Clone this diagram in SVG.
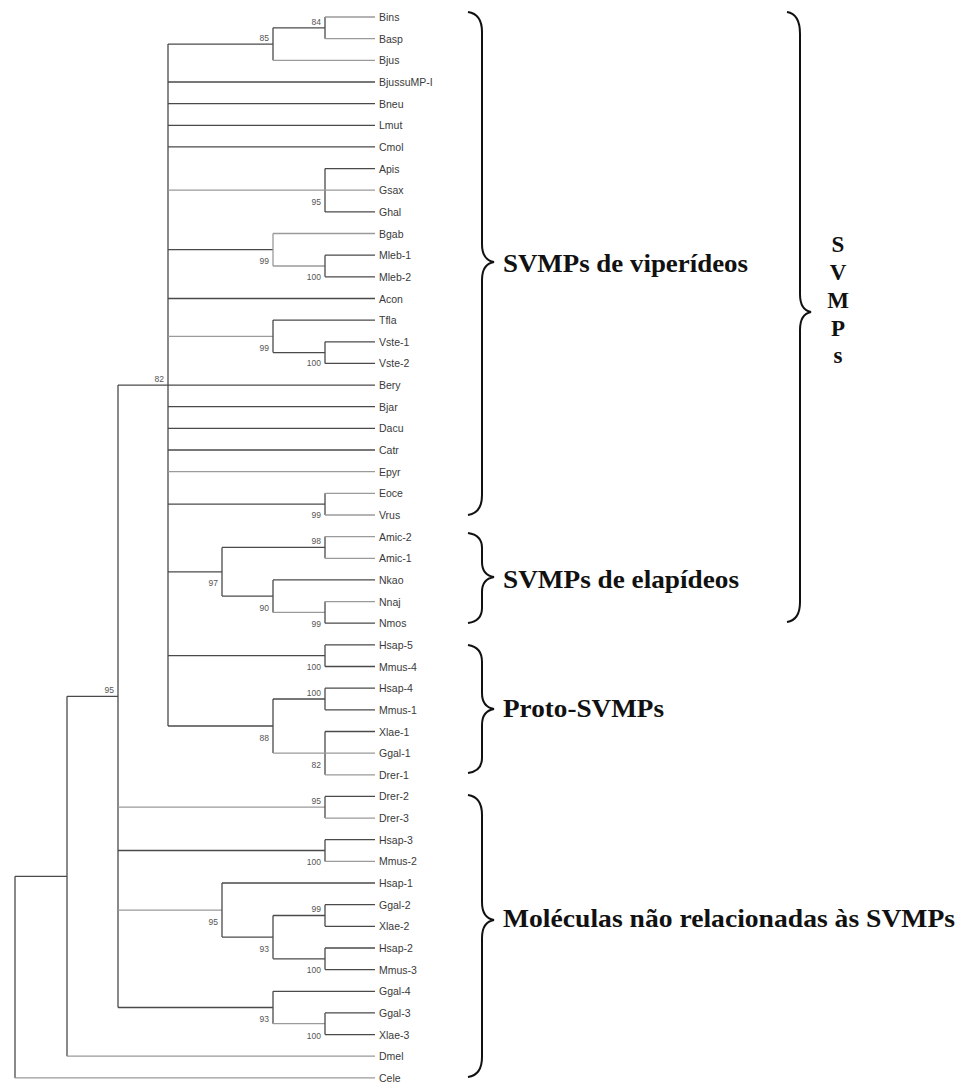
<svg xmlns="http://www.w3.org/2000/svg" width="960" height="1084" viewBox="0 0 960 1084">
<style>
.d{stroke:#4a4a4a;stroke-width:1.3;fill:none}
.l{stroke:#9a9a9a;stroke-width:1.3;fill:none}
.leaf{font-family:"Liberation Sans",Arial,sans-serif;font-size:10.5px;fill:#3a3a3a}
.bs{font-family:"Liberation Sans",Arial,sans-serif;font-size:8.5px;fill:#555;text-anchor:end}
.br{stroke:#111;stroke-width:2;fill:none}
.grp{font-family:"Liberation Serif","Times New Roman",serif;font-weight:bold;font-size:26px;fill:#111}
.big{font-family:"Liberation Serif","Times New Roman",serif;font-weight:bold;font-size:23px;fill:#111;text-anchor:middle}
</style>
<rect width="960" height="1084" fill="#fff"/>
<g id="connectors">
<!-- root -->
<path class="d" d="M15 876.3V1077.9"/>
<path class="l" d="M15 1077.9H375"/>
<path class="d" d="M15 876.3H67"/>
<path class="d" d="M67 696.3V1056.2"/>
<path class="l" d="M67 1056.2H375"/>
<path class="d" d="M67 696.3H118"/>
<path class="d" d="M118 385.1V1007.5"/>
<!-- node 82 SVMPs -->
<path class="d" d="M118 385.1H168"/>
<path class="d" d="M168 44.1V726"/>
<!-- 85 / 84 -->
<path class="d" d="M168 44.1H273"/>
<path class="d" d="M273 27.8V60.3"/>
<path class="d" d="M273 27.8H325"/>
<path class="d" d="M325 17V38.7"/>
<path class="l" d="M325 17H375"/>
<path class="l" d="M325 38.7H375"/>
<path class="l" d="M273 60.3H375"/>
<path class="d" d="M168 82H375"/>
<path class="d" d="M168 103.6H375"/>
<path class="d" d="M168 125.3H375"/>
<path class="d" d="M168 146.9H375"/>
<!-- Apis polytomy -->
<path class="d" d="M325 168.6V211.9"/>
<path class="d" d="M325 168.6H375"/>
<path class="l" d="M168 190.2H375"/>
<path class="d" d="M325 211.9H375"/>
<!-- Bgab -->
<path class="d" d="M168 249.7H273"/>
<path class="l" d="M273 233.5V266"/>
<path class="l" d="M273 233.5H375"/>
<path class="l" d="M273 266H325"/>
<path class="d" d="M325 255.2V276.8"/>
<path class="d" d="M325 255.2H375"/>
<path class="d" d="M325 276.8H375"/>
<path class="d" d="M168 298.5H375"/>
<!-- Tfla -->
<path class="l" d="M168 336.3H273"/>
<path class="d" d="M273 320.1V352.6"/>
<path class="d" d="M273 320.1H375"/>
<path class="d" d="M273 352.6H325"/>
<path class="d" d="M325 341.8V363.4"/>
<path class="d" d="M325 341.8H375"/>
<path class="d" d="M325 363.4H375"/>
<path class="d" d="M168 385.1H375"/>
<path class="d" d="M168 406.7H375"/>
<path class="d" d="M168 428.4H375"/>
<path class="d" d="M168 450H375"/>
<path class="l" d="M168 471.7H375"/>
<!-- Eoce/Vrus -->
<path class="d" d="M168 504.1H325"/>
<path class="d" d="M325 493.3V515"/>
<path class="l" d="M325 493.3H375"/>
<path class="l" d="M325 515H375"/>
<!-- elapid -->
<path class="d" d="M168 571.8H222"/>
<path class="d" d="M222 547.4V596.1"/>
<path class="d" d="M222 547.4H325"/>
<path class="d" d="M325 536.6V558.3"/>
<path class="l" d="M325 536.6H375"/>
<path class="l" d="M325 558.3H375"/>
<path class="d" d="M222 596.1H273"/>
<path class="d" d="M273 579.9V612.4"/>
<path class="d" d="M273 579.9H375"/>
<path class="l" d="M273 612.4H325"/>
<path class="d" d="M325 601.6V623.2"/>
<path class="l" d="M325 601.6H375"/>
<path class="d" d="M325 623.2H375"/>
<!-- proto -->
<path class="d" d="M168 655.7H325"/>
<path class="d" d="M325 644.9V666.5"/>
<path class="d" d="M325 644.9H375"/>
<path class="d" d="M325 666.5H375"/>
<path class="d" d="M168 726H273"/>
<path class="d" d="M273 699V753.1"/>
<path class="d" d="M273 699H325"/>
<path class="d" d="M325 688.2V709.8"/>
<path class="d" d="M325 688.2H375"/>
<path class="d" d="M325 709.8H375"/>
<path class="d" d="M325 731.5V774.8"/>
<path class="d" d="M325 731.5H375"/>
<path class="l" d="M273 753.1H375"/>
<path class="l" d="M325 774.8H375"/>
<!-- non-SVMP -->
<path class="l" d="M118 807.2H325"/>
<path class="d" d="M325 796.4V818.1"/>
<path class="d" d="M325 796.4H375"/>
<path class="l" d="M325 818.1H375"/>
<path class="d" d="M118 850.5H325"/>
<path class="d" d="M325 839.7V861.4"/>
<path class="d" d="M325 839.7H375"/>
<path class="l" d="M325 861.4H375"/>
<path class="l" d="M118 910.1H222"/>
<path class="d" d="M222 883V937.1"/>
<path class="d" d="M222 883H375"/>
<path class="d" d="M222 937.1H273"/>
<path class="d" d="M273 915.5V958.8"/>
<path class="d" d="M273 915.5H325"/>
<path class="d" d="M325 904.7V926.3"/>
<path class="d" d="M325 904.7H375"/>
<path class="d" d="M325 926.3H375"/>
<path class="d" d="M273 958.8H325"/>
<path class="d" d="M325 948V969.6"/>
<path class="d" d="M325 948H375"/>
<path class="d" d="M325 969.6H375"/>
<path class="d" d="M118 1007.5H273"/>
<path class="d" d="M273 991.3V1023.7"/>
<path class="d" d="M273 991.3H375"/>
<path class="l" d="M273 1023.7H325"/>
<path class="d" d="M325 1012.9V1034.6"/>
<path class="d" d="M325 1012.9H375"/>
<path class="d" d="M325 1034.6H375"/>
</g>
<g id="leaves" class="leaf">
<g id="n-Bins"><text x="379" y="21">Bins</text></g>
<g id="n-Basp"><text x="379" y="42.7">Basp</text></g>
<g id="n-Bjus"><text x="379" y="64.3">Bjus</text></g>
<g id="n-BjussuMP-I"><text x="379" y="86">BjussuMP-I</text></g>
<g id="n-Bneu"><text x="379" y="107.6">Bneu</text></g>
<g id="n-Lmut"><text x="379" y="129.3">Lmut</text></g>
<g id="n-Cmol"><text x="379" y="150.9">Cmol</text></g>
<g id="n-Apis"><text x="379" y="172.6">Apis</text></g>
<g id="n-Gsax"><text x="379" y="194.2">Gsax</text></g>
<g id="n-Ghal"><text x="379" y="215.9">Ghal</text></g>
<g id="n-Bgab"><text x="379" y="237.5">Bgab</text></g>
<g id="n-Mleb-1"><text x="379" y="259.2">Mleb-1</text></g>
<g id="n-Mleb-2"><text x="379" y="280.8">Mleb-2</text></g>
<g id="n-Acon"><text x="379" y="302.5">Acon</text></g>
<g id="n-Tfla"><text x="379" y="324.1">Tfla</text></g>
<g id="n-Vste-1"><text x="379" y="345.8">Vste-1</text></g>
<g id="n-Vste-2"><text x="379" y="367.4">Vste-2</text></g>
<g id="n-Bery"><text x="379" y="389.1">Bery</text></g>
<g id="n-Bjar"><text x="379" y="410.7">Bjar</text></g>
<g id="n-Dacu"><text x="379" y="432.4">Dacu</text></g>
<g id="n-Catr"><text x="379" y="454">Catr</text></g>
<g id="n-Epyr"><text x="379" y="475.7">Epyr</text></g>
<g id="n-Eoce"><text x="379" y="497.3">Eoce</text></g>
<g id="n-Vrus"><text x="379" y="519">Vrus</text></g>
<g id="n-Amic-2"><text x="379" y="540.6">Amic-2</text></g>
<g id="n-Amic-1"><text x="379" y="562.3">Amic-1</text></g>
<g id="n-Nkao"><text x="379" y="583.9">Nkao</text></g>
<g id="n-Nnaj"><text x="379" y="605.6">Nnaj</text></g>
<g id="n-Nmos"><text x="379" y="627.2">Nmos</text></g>
<g id="n-Hsap-5"><text x="379" y="648.9">Hsap-5</text></g>
<g id="n-Mmus-4"><text x="379" y="670.5">Mmus-4</text></g>
<g id="n-Hsap-4"><text x="379" y="692.2">Hsap-4</text></g>
<g id="n-Mmus-1"><text x="379" y="713.8">Mmus-1</text></g>
<g id="n-Xlae-1"><text x="379" y="735.5">Xlae-1</text></g>
<g id="n-Ggal-1"><text x="379" y="757.1">Ggal-1</text></g>
<g id="n-Drer-1"><text x="379" y="778.8">Drer-1</text></g>
<g id="n-Drer-2"><text x="379" y="800.4">Drer-2</text></g>
<g id="n-Drer-3"><text x="379" y="822.1">Drer-3</text></g>
<g id="n-Hsap-3"><text x="379" y="843.7">Hsap-3</text></g>
<g id="n-Mmus-2"><text x="379" y="865.4">Mmus-2</text></g>
<g id="n-Hsap-1"><text x="379" y="887">Hsap-1</text></g>
<g id="n-Ggal-2"><text x="379" y="908.7">Ggal-2</text></g>
<g id="n-Xlae-2"><text x="379" y="930.3">Xlae-2</text></g>
<g id="n-Hsap-2"><text x="379" y="952">Hsap-2</text></g>
<g id="n-Mmus-3"><text x="379" y="973.6">Mmus-3</text></g>
<g id="n-Ggal-4"><text x="379" y="995.3">Ggal-4</text></g>
<g id="n-Ggal-3"><text x="379" y="1016.9">Ggal-3</text></g>
<g id="n-Xlae-3"><text x="379" y="1038.6">Xlae-3</text></g>
<g id="n-Dmel"><text x="379" y="1060.2">Dmel</text></g>
<g id="n-Cele"><text x="379" y="1081.9">Cele</text></g>
</g>
<g id="bootstrap" class="bs">
<text x="321" y="24.5">84</text>
<text x="269" y="41">85</text>
<text x="321" y="205">95</text>
<text x="269" y="264">99</text>
<text x="321" y="280">100</text>
<text x="269" y="351">99</text>
<text x="321" y="366">100</text>
<text x="164" y="382">82</text>
<text x="321" y="518">99</text>
<text x="321" y="544">98</text>
<text x="218" y="586">97</text>
<text x="269" y="611">90</text>
<text x="321" y="627">99</text>
<text x="321" y="670">100</text>
<text x="114" y="693">95</text>
<text x="321" y="696">100</text>
<text x="269" y="741">88</text>
<text x="321" y="768">82</text>
<text x="321" y="804">95</text>
<text x="321" y="865">100</text>
<text x="321" y="912">99</text>
<text x="218" y="925">95</text>
<text x="269" y="952">93</text>
<text x="321" y="973">100</text>
<text x="269" y="1022">93</text>
<text x="321" y="1039">100</text>
</g>
<g id="brackets">
<path class="br" d="M468 12Q482 14 482 32V244Q482 260 494 262Q482 264 482 280V495Q482 513 468 515"/>
<path class="br" d="M468 533Q482 535 482 548V562Q482 575 494 577Q482 579 482 592V608Q482 621 468 623"/>
<path class="br" d="M468 645Q482 647 482 662V693Q482 707 494 709Q482 711 482 725V758Q482 771 468 773"/>
<path class="br" d="M468 795Q482 797 482 815V902Q482 918 494 920Q482 922 482 938V1057Q482 1075 468 1077"/>
<path class="br" d="M787 12Q800 14 800 34V294Q800 310 811 312Q800 314 800 330V602Q800 620 787 622"/>
</g>
<g id="label-viper"><text class="grp" x="503" y="272" textLength="245" lengthAdjust="spacingAndGlyphs">SVMPs de viperídeos</text></g>
<g id="label-elap"><text class="grp" x="503" y="588" textLength="236" lengthAdjust="spacingAndGlyphs">SVMPs de elapídeos</text></g>
<g id="label-proto"><text class="grp" x="503" y="717" textLength="161" lengthAdjust="spacingAndGlyphs">Proto-SVMPs</text></g>
<g id="label-mol"><text class="grp" x="503" y="927" textLength="452" lengthAdjust="spacingAndGlyphs">Moléculas não relacionadas às SVMPs</text></g>
<g id="label-svmps" class="big">
<text x="838" y="252">S</text>
<text x="838" y="280">V</text>
<text x="838" y="308">M</text>
<text x="838" y="336">P</text>
<text x="838" y="363">s</text>
</g>
</svg>
